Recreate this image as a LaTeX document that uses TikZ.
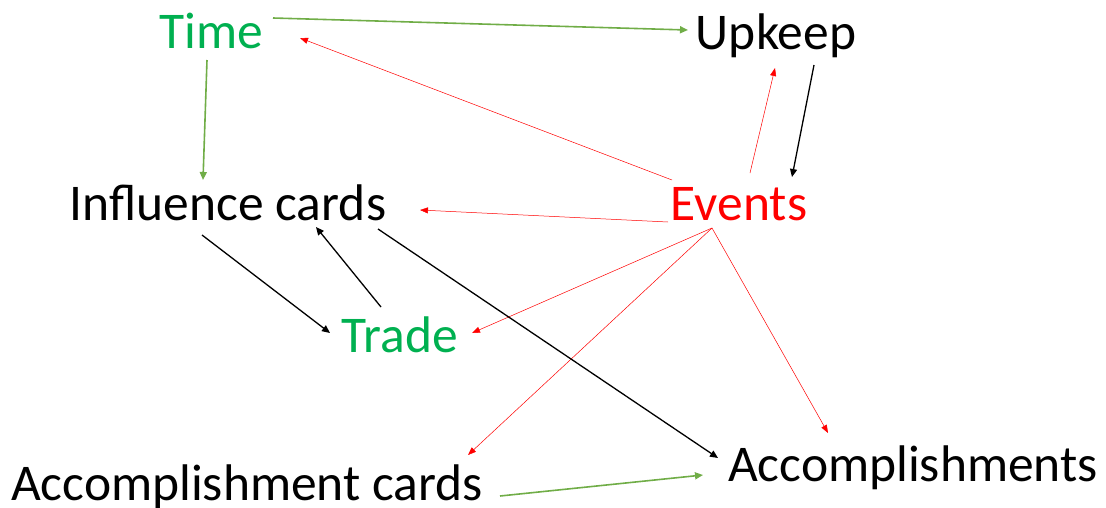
\documentclass[tikz,border=0pt]{standalone}
\usepackage{fontspec}
\setmainfont{Carlito}
\usetikzlibrary{arrows.meta}
\definecolor{tgreen}{RGB}{0,176,80}
\definecolor{agreen}{RGB}{112,173,71}
\definecolor{tred}{RGB}{255,0,0}
\begin{document}
\begin{tikzpicture}[x=1pt,y=-1pt,
  lbl/.style={inner sep=0pt,anchor=base,font=\fontsize{51.5}{56}\selectfont},
  garrow/.style={draw=agreen,line width=1.6pt,-{Triangle[length=8pt,width=7pt]}},
  rarrow/.style={draw=tred,line width=0.5pt,-{Triangle[length=8pt,width=6pt]}},
  barrow/.style={draw=black,line width=1.3pt,-{Triangle[length=8pt,width=7pt]}}]
\useasboundingbox (0,0) rectangle (1106,507);
\node[lbl,text=tgreen] (Time) at (211,48) {Time};
\node[lbl] (Upkeep) at (776,49) {Upkeep};
\node[lbl] (Infl) at (228,220) {Influence cards};
\node[lbl,text=tred] (Events) at (739,220) {Events};
\node[lbl,text=tgreen] (Trade) at (400,352) {Trade};
\node[lbl] (AccC) at (247,500) {Accomplishment cards};
\node[lbl] (Acc) at (913,481) {Accomplishments};
% green
\draw[garrow] ([shift={(62,-30)}]Time.base) -- ([shift={(-88,-19)}]Upkeep.base);
\draw[garrow] ([shift={(-4,12)}]Time.base) -- ([shift={(-25,-40)}]Infl.base);
\draw[garrow] ([shift={(253,-4)}]AccC.base) -- ([shift={(-210,-6)}]Acc.base);
% red
\draw[rarrow] ([shift={(-67,-40)}]Events.base) -- ([shift={(89,-10)}]Time.base);
\draw[rarrow] ([shift={(11,-47)}]Events.base) -- ([shift={(-1,19)}]Upkeep.base);
\draw[rarrow] ([shift={(-71,2)}]Events.base) -- ([shift={(192,-10)}]Infl.base);
\draw[rarrow] ([shift={(-27,8)}]Events.base) -- ([shift={(72,-19)}]Trade.base);
\draw[rarrow] ([shift={(-27,8)}]Events.base) -- ([shift={(221,-45)}]AccC.base);
\draw[rarrow] ([shift={(-27,8)}]Events.base) -- ([shift={(-85,-48)}]Acc.base);
% black
\draw[barrow] ([shift={(38,16)}]Upkeep.base) -- ([shift={(53,-43)}]Events.base);
\draw[barrow] ([shift={(-26,15)}]Infl.base) -- ([shift={(-70,-19)}]Trade.base);
\draw[barrow] ([shift={(-19,-45)}]Trade.base) -- ([shift={(88,7)}]Infl.base);
\draw[barrow] ([shift={(150,9)}]Infl.base) -- ([shift={(-195,-23)}]Acc.base);
\end{tikzpicture}
\end{document}
